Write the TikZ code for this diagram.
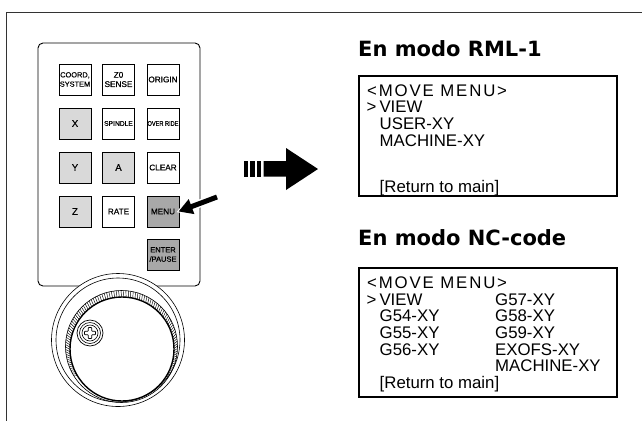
\documentclass[tikz,border=0pt]{standalone}
\usepackage{fontspec}
\usetikzlibrary{arrows.meta}
\newfontfamily\lcdfont{Liberation Sans}
\newfontfamily\keyfont{Liberation Sans}[FakeBold=0.6]
\newfontfamily\headfont{DejaVu Sans}
\tikzset{
	key/.style={draw, line width=0.9pt, minimum width=32pt, minimum height=31pt, inner sep=0pt, align=center,
		font=\keyfont\fontsize{8.2}{9.3}\selectfont},
	axiskey/.style={key, fill=black!15, font=\keyfont\fontsize{9.5}{10}\selectfont},
	menukey/.style={key, fill=black!34},
	lcd/.style={anchor=base west, inner sep=0pt, font=\lcdfont\fontsize{16.8}{17}\selectfont},
	heading/.style={anchor=base west, inner sep=0pt, font=\headfont\bfseries\fontsize{21}{24}\selectfont},
	screen/.style={draw, line width=2pt},
}
\begin{document}
\begin{tikzpicture}[x=1pt, y=-1pt]
		\useasboundingbox (0,0) rectangle (642,421);
		\draw[black!80, line width=0.8pt] (642,12) -- (6,12) -- (6,421);
		
		% keypad panel
		\draw[line width=0.9pt, rounded corners=5pt] (38,43) rectangle (200,286);
		
			\node[key, font=\keyfont\fontsize{7.4}{9.3}\selectfont] (coordkey) at (75,79.5) {COORD,\\SYSTEM};
			\node[key] (zerokey) at (118.5,79.5) {Z0\\SENSE};
			\node[key] (originkey) at (163,79.5) {ORIGIN};
			\node[axiskey] (xkey) at (75,123.5) {X};
			\node[key, font=\keyfont\fontsize{6.7}{8}\selectfont] (spindlekey) at (118.5,123.5) {SPINDLE};
			\node[key, font=\keyfont\fontsize{6.7}{8}\selectfont] (overridekey) at (163,123.5) {\scalebox{0.84}[1]{OVER RIDE}};
			\node[axiskey] (ykey) at (75,167.5) {Y};
			\node[axiskey] (akey) at (118.5,167.5) {A};
			\node[key] (clearkey) at (163,167.5) {CLEAR};
			\node[axiskey] (zkey) at (75,211.5) {Z};
			\node[key] (ratekey) at (118.5,211.5) {RATE};
			\node[menukey] (menukey) at (163,211.5) {MENU};
			\node[menukey, font=\keyfont\fontsize{7.5}{9.3}\selectfont] (enterkey) at (163,254.5) {ENTER\\/PAUSE};
		
		% jog dial
		\draw[fill=white, line width=0.6pt] (118,340) circle[radius=66.5pt];
		\draw[line width=0.6pt] (118,340) circle[radius=62pt];
		\draw[line width=0.6pt] (121.5,346.5) circle[radius=56pt];
		\foreach \a in {-32,-29.5,...,212}
			\draw[line width=0.45pt] ([shift={(121.5,346.5)}]\a:56pt) -- ([shift={(122,349)}]\a:52pt);
		\draw[line width=1.4pt] (122,349) circle[radius=52pt];
		\draw[fill=white, line width=0.7pt] (90,333) circle[radius=13pt];
		\draw[line width=0.6pt] (90,333) circle[radius=10.5pt];
		\draw[line width=0.6pt] (90,333) circle[radius=8pt];
		\draw[line width=0.7pt, rounded corners=0.6pt] (88.2,327.5) -- ++(3.6,0) -- ++(0,3.7) -- ++(3.7,0) -- ++(0,3.6)
			-- ++(-3.7,0) -- ++(0,3.7) -- ++(-3.6,0) -- ++(0,-3.7) -- ++(-3.7,0) -- ++(0,-3.6) -- ++(3.7,0) -- cycle;
		
		\coordinate (pointer) at (217,197);
		\draw[white, line width=8pt, shorten >=-2pt, -{Triangle[length=17pt,width=20pt]}] (pointer) -- ([xshift=-1pt]menukey.east);
		\draw[line width=5pt, -{Triangle[length=14pt,width=15pt]}] (pointer) -- ([xshift=-1pt]menukey.east);
		
		% big arrow
		\foreach \x in {244,250.3,256.5}
			\fill (\x,161) rectangle ++(4.3,15.5);
		\fill (263.5,161) -- (286,161) -- (286,148) -- (318,169) -- (286,190) -- (286,176.5) -- (263.5,176.5) -- cycle;
		
		% RML-1 screen
		\node[heading] (rmlhead) at (358,56) {En modo RML-1};
		\draw[screen] (359,76) rectangle (617,196);
			\node[lcd] (rmltitle) at (367,96.7) {\addfontfeature{LetterSpace=11}<MOVE MENU>};
			\node[lcd] (rmlview) at (366.5,112.7) {>\kern3pt VIEW};
			\node[lcd] (rmluser) at (379.5,129.3) {USER-XY};
			\node[lcd] (rmlmach) at (379.5,146) {MACHINE-XY};
			\node[lcd] (rmlret) at (379.5,192.5) {[Return to main]};
		
		% NC-code screen
		\node[heading] (nchead) at (358,245) {En modo NC-code};
		\draw[screen] (359,268) rectangle (617,397);
			\node[lcd] (nctitle) at (367,288.3) {\addfontfeature{LetterSpace=11}<MOVE MENU>};
			\node[lcd] (ncview) at (366.5,305) {>\kern3pt VIEW};
			\node[lcd] (ncgfour) at (379.5,321.7) {G54-XY};
			\node[lcd] (ncgfive) at (379.5,338.3) {G55-XY};
			\node[lcd] (ncgsix) at (379.5,355) {G56-XY};
			\node[lcd] (ncgseven) at (495,305) {G57-XY};
			\node[lcd] (ncgeight) at (495,321.7) {G58-XY};
			\node[lcd] (ncgnine) at (495,338.3) {G59-XY};
			\node[lcd] (ncexofs) at (495,355) {EXOFS-XY};
			\node[lcd] (ncmach) at (495,371.7) {MACHINE-XY};
			\node[lcd] (ncret) at (379.5,388.3) {[Return to main]};
	\end{tikzpicture}
\end{document}
